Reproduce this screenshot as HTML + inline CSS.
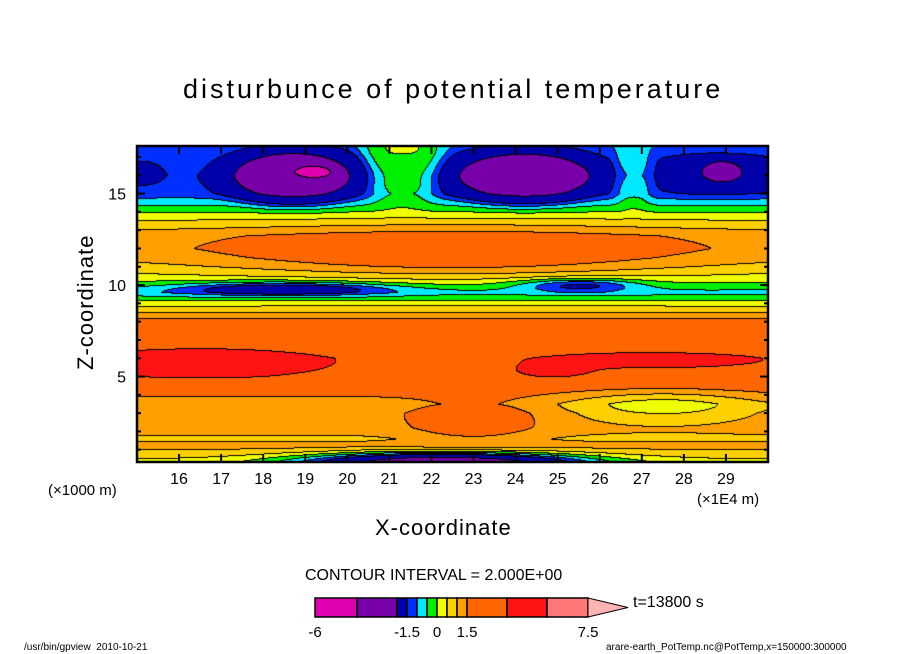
<!DOCTYPE html>
<html><head><meta charset="utf-8">
<style>
body{margin:0;background:#fff;width:904px;height:654px;overflow:hidden;position:relative;font-family:"Liberation Sans",sans-serif;}
.t{position:absolute;white-space:nowrap;color:#000;}
</style></head>
<body>
<div class="t" style="left:183px;top:74px;font-size:27px;letter-spacing:3px;">disturbunce of potential temperature</div>
<canvas id="cv" width="631" height="316" style="position:absolute;left:137px;top:146px;"></canvas>
<svg id="ax" width="904" height="654" style="position:absolute;left:0;top:0;"></svg>
<div class="t" style="left:20px;top:293px;font-size:22px;letter-spacing:1px;transform:rotate(-90deg);transform-origin:65px 12px;width:130px;">Z-coordinate</div>
<div class="t" style="left:48px;top:482px;font-size:15px;">(×1000 m)</div>
<div class="t" style="left:697px;top:491px;font-size:15px;">(×1E4 m)</div>
<div class="t" style="left:375px;top:515px;font-size:22px;letter-spacing:1px;">X-coordinate</div>
<div class="t" style="left:305px;top:567px;font-size:16px;">CONTOUR INTERVAL = 2.000E+00</div>
<div class="t" style="left:633px;top:594px;font-size:16px;">t=13800 s</div>
<div class="t" style="left:24px;top:642px;font-size:10px;">/usr/bin/gpview&nbsp;&nbsp;2010-10-21</div>
<div class="t" style="left:606px;top:642px;font-size:10px;">arare-earth_PotTemp.nc@PotTemp,x=150000:300000</div>
<script>
// ---- data ----
const levelBounds=[-4.5,-3,-1.5,-1,-0.5,0,0.5,1,1.5,3,4.5,6];
const levelColors=["#e000b0","#7800a8","#0000a8","#0030ff","#00e8ff","#00f000","#f0ff00","#ffd000","#ffa000","#ff6600","#ff1414","#ff7878","#ffb4b4"];
const profileZ=[0.3,0.8,1.2,1.6,2.2,3,3.5,4.2,5,6,7,8,8.4,8.7,9,9.3,9.6,10,10.5,11,11.5,12,12.7,13.3,13.8,14.2,14.6,15,16,17,17.6];
const profileV=[0.3,0.8,1.2,0.9,1.2,1.3,1.2,1.7,2.4,2.6,2.2,1.7,1.2,0.7,0.3,-0.3,-0.7,-0.2,0.3,0.7,1.0,1.2,1.2,0.7,0.2,-0.3,-0.8,-1.3,-1.4,-1.2,-1.0];
const blobX=[22.5,18.7,19.2,24.2,28.9,21.3,26.8,16.5,27.2,24.9,22.3,27.5,18.5,25.5,15.1,23.0,28.8];
const blobZ=[11.7,16.0,16.2,16.0,16.2,16.6,16.0,5.7,5.9,5.3,0.3,3.4,9.8,10.0,16.2,2.5,16.2];
const blobRX=[5.5,1.7,0.5,1.9,0.5,1.0,0.5,3.0,2.6,1.0,3.0,2.2,2.4,1.4,0.5,1.5,2.0];
const blobRZ=[1.4,1.6,0.35,1.55,0.6,2.2,1.8,0.9,0.45,0.45,0.5,0.9,0.35,0.35,0.7,1.2,1.4];
const blobA=[1.1,-2.5,-1.2,-2.5,-2.5,1.15,0.7,1.4,1.2,1.0,-5,-1.0,-2.0,-1.6,-0.5,0.8,-0.5];
const blobP=[1,2,2,2,2,2,2,1,1,1,1,1,1,1,1,1,2];
const xTicks=[16,17,18,19,20,21,22,23,24,25,26,27,28,29];
const yTicks=[5,10,15];
const cbLabels=["-6","-1.5","0","1.5","7.5"];
const cbLabelIdx=[0,3,6,9,12];
// ---- axes ----
const X0=137,X1=768,Y0=146,Y1=462,xmin=15,xmax=30,zmin=0.33,zmax=17.6;
const sx=x=>X0+(x-xmin)/(xmax-xmin)*(X1-X0);
const sy=z=>Y1-(z-zmin)/(zmax-zmin)*(Y1-Y0);
const ix=px=>xmin+px/(X1-X0)*(xmax-xmin);
const iz=py=>zmax-py/(Y1-Y0)*(zmax-zmin);
function prof(z){
  if(z<=profileZ[0])return profileV[0];
  for(let i=1;i<profileZ.length;i++){if(z<=profileZ[i]){const t=(z-profileZ[i-1])/(profileZ[i]-profileZ[i-1]);return profileV[i-1]+t*(profileV[i]-profileV[i-1]);}}
  return profileV[profileV.length-1];
}
function field(x,z){
  let v=prof(z);
  for(let i=0;i<blobX.length;i++){const dx=(x-blobX[i])/blobRX[i],dz=(z-blobZ[i])/blobRZ[i];const d=dx*dx+dz*dz;if(d<9)v+=blobA[i]*Math.exp(-Math.pow(d,blobP[i]));}
  return v;
}
function bin(v){let k=0;while(k<levelBounds.length&&v>=levelBounds[k])k++;return k;}
const cv=document.getElementById('cv'),ctx=cv.getContext('2d');
const W=cv.width,H=cv.height,img=ctx.createImageData(W,H);
const bins=new Int8Array(W*H);
for(let py=0;py<H;py++)for(let px=0;px<W;px++)bins[py*W+px]=bin(field(ix(px),iz(py)));
const rgb=levelColors.map(c=>[parseInt(c.substr(1,2),16),parseInt(c.substr(3,2),16),parseInt(c.substr(5,2),16)]);
for(let py=0;py<H;py++)for(let px=0;px<W;px++){
  const b=bins[py*W+px];let c=rgb[b];
  if((px<W-1&&bins[py*W+px+1]!==b)||(py<H-1&&bins[(py+1)*W+px]!==b))c=[0,0,0];
  const o=(py*W+px)*4;img.data[o]=c[0];img.data[o+1]=c[1];img.data[o+2]=c[2];img.data[o+3]=255;
}
ctx.putImageData(img,0,0);
const NS="http://www.w3.org/2000/svg",ax=document.getElementById('ax');
function mk(tag,attrs){const e=document.createElementNS(NS,tag);for(const k in attrs)e.setAttribute(k,attrs[k]);ax.appendChild(e);return e;}
let fr=mk('rect',{x:X0,y:Y0,width:X1-X0,height:Y1-Y0,fill:'none',stroke:'#000','stroke-width':2.5});


xTicks.forEach(t=>{
  const x=sx(t);
  let l1=mk('line',{x1:x,y1:Y1,x2:x,y2:Y1-8,stroke:'#000','stroke-width':2});
  
  
  mk('line',{x1:x,y1:Y0,x2:x,y2:Y0+8,stroke:'#000','stroke-width':2});
  let tx=mk('text',{x:x,y:484,'text-anchor':'middle','font-size':16,'font-family':'Liberation Sans, sans-serif'});
  tx.textContent=t;
  
  
});
for(let z=1;z<=17;z++){const y=sy(z);const L=yTicks.includes(z)?8:4;
  mk('line',{x1:X0,y1:y,x2:X0+L,y2:y,stroke:'#000','stroke-width':2});
  mk('line',{x1:X1,y1:y,x2:X1-L,y2:y,stroke:'#000','stroke-width':2});}
yTicks.forEach(t=>{
  let tx=mk('text',{x:126,y:sy(t)+6,'text-anchor':'end','font-size':16,'font-family':'Liberation Sans, sans-serif'});
  tx.textContent=t;
  
  
});
// colorbar
const cbEdges=[315,357,397,407,417,427,437,447,457,467,507,547,588];
for(let i=0;i<12;i++){
  let r=mk('rect',{x:cbEdges[i],y:598,width:cbEdges[i+1]-cbEdges[i],height:19,fill:levelColors[i],stroke:'#000','stroke-width':1.5});
  
  
}
let tri=mk('polygon',{points:'588,598 628,607.5 588,617',fill:levelColors[12],stroke:'#000','stroke-width':1});


cbLabels.forEach((s,i)=>{
  let tx=mk('text',{x:cbEdges[cbLabelIdx[i]],y:637,'text-anchor':'middle','font-size':15,'font-family':'Liberation Sans, sans-serif'});
  tx.textContent=s;
  
  
});
</script>
</body></html>
